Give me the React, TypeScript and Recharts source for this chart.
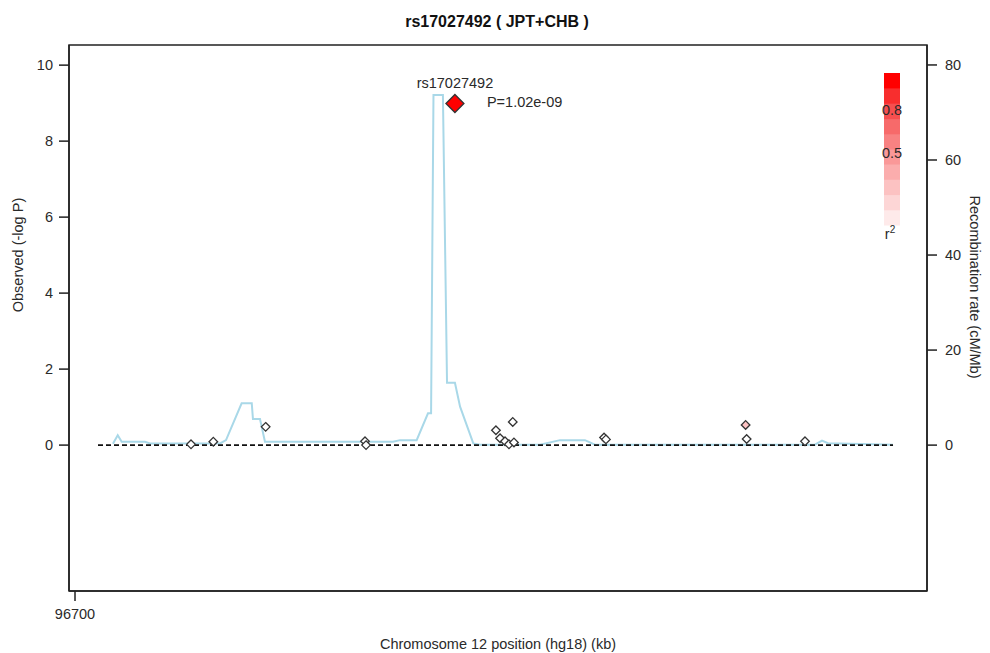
import React from 'react';
import { ComposedChart, Line, Scatter, XAxis, YAxis, ReferenceArea } from 'recharts';

// ---- data ----
const xDomain: [number, number] = [96696.5, 97196.5];
const xTicks = [96700];
const leftDomain: [number, number] = [-3.84, 10.53];
const leftTicks = [0, 2, 4, 6, 8, 10];
const rightDomain: [number, number] = [-30.7, 84.2];
const rightTicks = [0, 20, 40, 60, 80];

const snpPos = [96767.6, 96780.6, 96811.1, 96869.0, 96869.6, 96945.3, 96947.7, 96950.6, 96952.9, 96955.8, 96955.1, 97008.3, 97009.4, 97090.8, 97091.4, 97125.4];
const snpLogP = [0.02, 0.09, 0.48, 0.1, 0.0, 0.39, 0.18, 0.1, 0.02, 0.07, 0.61, 0.2, 0.15, 0.53, 0.16, 0.1];
const snpR2 = [0, 0, 0, 0, 0, 0, 0, 0, 0, 0, 0, 0, 0, 0.25, 0, 0];

const leadName = 'rs17027492';
const leadPos = 96921.4;
const leadLogP = 8.99;
const leadLabel = 'P=1.02e-09';

const recombPos = [96722.1, 96724.9, 96727.2, 96740.8, 96743.7, 96784.5, 96788.0, 96797.1, 96803.0, 96803.7, 96807.8, 96810.7, 96885.3, 96889.4, 96899.1, 96905.7, 96907.5, 96908.9, 96914.4, 96916.8, 96921.4, 96924.4, 96932.1, 96936.0, 96971.0, 96982.6, 96997.2, 97003.0, 97131.2, 97135.3, 97138.8, 97176.7];
const recombRate = [0.3, 2.1, 0.7, 0.7, 0.35, 0.35, 1.05, 8.8, 8.8, 5.5, 5.5, 0.7, 0.7, 1.05, 1.05, 6.7, 6.7, 73.7, 73.7, 13.1, 13.1, 8.1, 0.35, 0.1, 0.1, 1.05, 1.05, 0.1, 0.1, 0.95, 0.4, 0.1];

const baselinePos = [96713.4, 97176.7];
const baselineVal = [0, 0];

const ldColors = ['#feeaea', '#fdd6d6', '#fcc2c2', '#fbadad', '#fa9898', '#f88282', '#f76a6a', '#f64f4f', '#f82e2e', '#ff0000'];
const legendLabels = ['0.8', '0.5'];

const title = 'rs17027492 ( JPT+CHB )';
const xTitle = 'Chromosome 12 position (hg18) (kb)';
const yLeftTitle = 'Observed (-log P)';
const yRightTitle = 'Recombination rate (cM/Mb)';

// ---- derived tables ----
const snpData = snpPos.map((p, i) => ({ pos: p, logp: snpLogP[i], r2: snpR2[i] }));
const leadData = [{ pos: leadPos, logp: leadLogP }];
const recombData = recombPos.map((p, i) => ({ pos: p, rate: recombRate[i] }));
const baselineData = baselinePos.map((p, i) => ({ pos: p, base: baselineVal[i] }));

const W = 974;
const H = 645;
const FONT = '"Liberation Sans", Arial, Helvetica, sans-serif';
const TXT = '#2a2a2a';
const FS = 14.5;

function ldFill(r2: number) {
  if (r2 < 0.1) return '#ffffff';
  const idx = Math.min(9, Math.floor(r2 * 10));
  return ldColors[idx];
}

const SnpShape = (props: any) => {
  const { cx, cy, payload } = props;
  if (cx == null || cy == null) return null;
  const s = 4.3;
  return (
    <polygon
      points={`${cx},${cy - s} ${cx + s},${cy} ${cx},${cy + s} ${cx - s},${cy}`}
      fill={ldFill(payload.r2)}
      stroke="#333"
      strokeWidth={1.3}
    />
  );
};

const LeadShape = (props: any) => {
  const { cx, cy } = props;
  if (cx == null || cy == null) return null;
  const s = 9;
  return (
    <g>
      <polygon
        points={`${cx},${cy - s} ${cx + s},${cy} ${cx},${cy + s} ${cx - s},${cy}`}
        fill="#ff0000"
        stroke="#333"
        strokeWidth={1.3}
      />
      <text x={cx} y={cy - 16} textAnchor="middle" fontSize={FS} fill={TXT} fontFamily={FONT}>
        {leadName}
      </text>
      <text x={cx + 32} y={cy + 3} textAnchor="start" fontSize={FS} fill={TXT} fontFamily={FONT}>
        {leadLabel}
      </text>
    </g>
  );
};

export default function App() {
  const barX = 876;
  const barTop = 65;
  const barH = 152;
  const bandH = barH / ldColors.length;
  return (
    <div style={{ position: 'relative', width: W, height: H, fontFamily: FONT }}>
      <ComposedChart width={W} height={H} margin={{ top: 37, right: 5, bottom: 32, left: 11 }}>
        <XAxis
          type="number"
          dataKey="pos"
          domain={xDomain}
          ticks={xTicks}
          allowDataOverflow
          height={30}
          tickSize={10}
          tickMargin={8}
          stroke="#222"
          strokeWidth={1.5}
          tick={{ fontSize: FS, fill: TXT, fontFamily: FONT }}
        />
        <YAxis
          yAxisId="left"
          type="number"
          domain={leftDomain}
          ticks={leftTicks}
          allowDataOverflow
          width={50}
          tickSize={10}
          tickMargin={6}
          stroke="#222"
          strokeWidth={1.5}
          tick={{ fontSize: FS, fill: TXT, fontFamily: FONT }}
        />
        <YAxis
          yAxisId="right"
          orientation="right"
          type="number"
          domain={rightDomain}
          ticks={rightTicks}
          allowDataOverflow
          width={50}
          tickSize={10}
          tickMargin={8}
          stroke="#222"
          strokeWidth={1.5}
          tick={{ fontSize: FS, fill: TXT, fontFamily: FONT }}
        />
        <ReferenceArea
          yAxisId="left"
          x1={xDomain[0]}
          x2={xDomain[1]}
          y1={leftDomain[0]}
          y2={leftDomain[1]}
          fill="none"
          fillOpacity={0}
          stroke="#222"
          strokeWidth={1.5}
        />
        <Line
          yAxisId="right"
          data={recombData}
          dataKey="rate"
          type="linear"
          stroke="#a9d8e8"
          strokeWidth={2}
          dot={false}
          activeDot={false}
          isAnimationActive={false}
        />
        <Line
          yAxisId="left"
          data={baselineData}
          dataKey="base"
          type="linear"
          stroke="#111"
          strokeWidth={1.8}
          strokeDasharray="5 3"
          dot={false}
          activeDot={false}
          isAnimationActive={false}
        />
        <Scatter yAxisId="left" data={snpData} dataKey="logp" shape={SnpShape} isAnimationActive={false} />
        <Scatter yAxisId="left" data={leadData} dataKey="logp" shape={LeadShape} isAnimationActive={false} />
      </ComposedChart>
      <svg
        width={W}
        height={H}
        style={{ position: 'absolute', left: 0, top: 0, pointerEvents: 'none' }}
        fontFamily={FONT}
      >
        <text x={489} y={19} textAnchor="middle" fontSize={16} fontWeight="bold" fill="#111">
          {title}
        </text>
        <text x={490} y={641} textAnchor="middle" fontSize={FS} fill={TXT}>
          {xTitle}
        </text>
        <text transform="translate(15,247) rotate(-90)" textAnchor="middle" fontSize={FS} fill={TXT}>
          {yLeftTitle}
        </text>
        <text transform="translate(962,279) rotate(90)" textAnchor="middle" fontSize={FS} fill={TXT}>
          {yRightTitle}
        </text>
        {ldColors.map((c, i) => (
          <rect
            key={i}
            x={barX}
            y={barTop + barH - (i + 1) * bandH}
            width={16}
            height={bandH + 0.5}
            fill={c}
          />
        ))}
        <text x={884} y={107} textAnchor="middle" fontSize={FS} fill={TXT}>
          {legendLabels[0]}
        </text>
        <text x={884} y={150} textAnchor="middle" fontSize={FS} fill={TXT}>
          {legendLabels[1]}
        </text>
        <text x={882} y={231} textAnchor="middle" fontSize={FS} fill={TXT}>
          r<tspan dy={-6} fontSize={10}>2</tspan>
        </text>
      </svg>
    </div>
  );
}
